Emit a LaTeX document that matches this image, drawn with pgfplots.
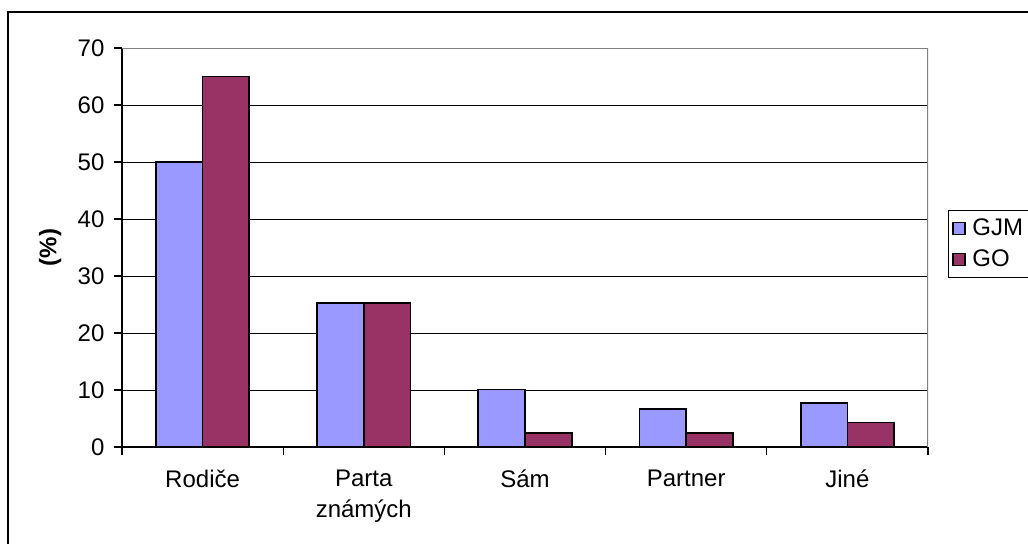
\documentclass[border=0pt]{standalone}
\usepackage{pgfplots}
\pgfplotsset{compat=1.18}
\usepackage{fontspec}
\setmainfont{Liberation Sans}
\definecolor{gjm}{HTML}{9999FF}
\definecolor{go}{HTML}{993366}
\begin{document}
\fontsize{18}{21.6}\selectfont
\begin{tikzpicture}
\useasboundingbox (0,0) rectangle (771pt,407.25pt);
\draw[line width=1.2pt] (6pt,-5pt) -- (6pt,398.25pt) -- (780pt,398.25pt);
\begin{axis}[
 at={(91.5pt,72pt)}, anchor=south west,
 scale only axis, width=604.5pt, height=299.25pt,
 xmin=-0.5, xmax=4.5, ymin=0, ymax=70,
 axis lines*=left,
 axis line style={black, line width=0.8pt},
 xtick={0,1,2,3,4},
 xticklabels={Rodiče, {Parta\\známých}, Sám, Partner, Jiné},
 xticklabel style={align=center, font=\fontsize{18}{23.5}\selectfont, yshift=-5pt},
 yticklabel style={font=\fontsize{18}{21}\selectfont, xshift=-1pt},
 major x tick style={draw=none},
 minor xtick={-0.5,0.5,1.5,2.5,3.5,4.5},
 ytick={0,10,...,70},
 tick align=outside,
 tick style={black, line width=0.8pt},
 major tick length=6pt, minor tick length=6pt,
 ymajorgrids, grid style={black, line width=0.75pt},
 /pgf/number format/assume math mode=true,
 ylabel={(\%)},
 ylabel style={font=\bfseries\fontsize{18}{21}\selectfont},
 legend image code/.code={\draw[#1, line width=0.9pt] (0pt,-4.5pt) rectangle (9pt,4.5pt);},
 legend style={at={(rel axis cs:1.0248,0.594)}, anchor=north west, draw=black, line width=0.75pt,
   inner xsep=3pt, inner ysep=4pt, row sep=4pt, column sep=3pt, font=\fontsize{18}{21}\selectfont, cells={anchor=west}},
]
\addplot[ybar, fill=gjm, draw=black, line width=1.3pt, bar width=0.29, bar shift=-0.145]
 coordinates {(0,50) (1,25.2) (2,10.1) (3,6.7) (4,7.7)};
\addplot[ybar, fill=go, draw=black, line width=1.3pt, bar width=0.29, bar shift=0.145]
 coordinates {(0,65) (1,25.2) (2,2.5) (3,2.5) (4,4.3)};
\legend{GJM, GO}
\draw[gray, line width=1pt] (rel axis cs:0,1) -- (rel axis cs:1,1) -- (rel axis cs:1,0);
\end{axis}
\end{tikzpicture}
\end{document}
